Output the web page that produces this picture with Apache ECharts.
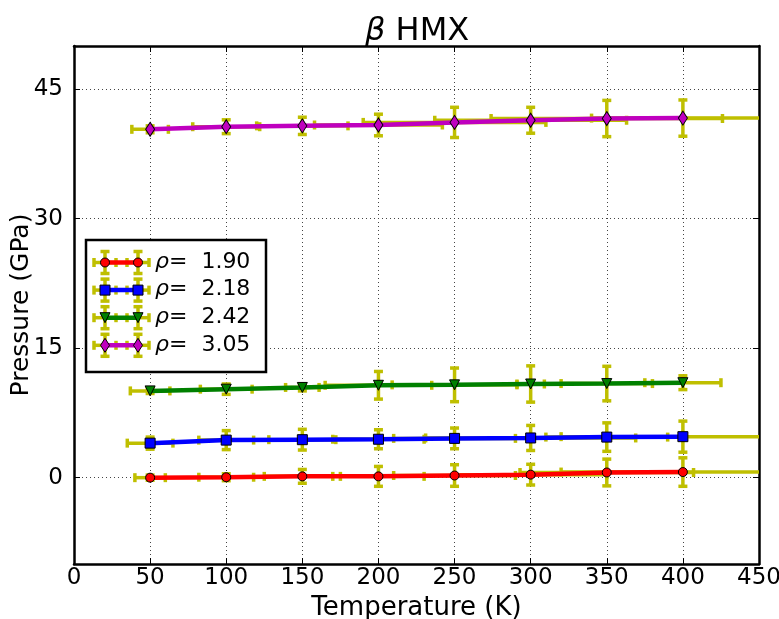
<!DOCTYPE html>
<html>
<head>
<meta charset="utf-8">
<script src="https://cdn.jsdelivr.net/npm/echarts@6/dist/echarts.min.js"></script>
<style>html,body{margin:0;padding:0;background:#fff}#c{width:779px;height:619px}</style>
</head>
<body>
<div id="c"></div>
<script>
// ---- data ----
var temperatures = [50, 100, 150, 200, 250, 300, 350, 400];
var densities = ['1.90', '2.18', '2.42', '3.05'];
var p190 = [0.0, 0.05, 0.15, 0.15, 0.25, 0.35, 0.6, 0.65];
var p218 = [4.0, 4.35, 4.4, 4.45, 4.55, 4.6, 4.7, 4.75];
var p242 = [10.05, 10.25, 10.45, 10.7, 10.75, 10.85, 10.9, 11.0];
var p305 = [40.35, 40.65, 40.75, 40.85, 41.15, 41.4, 41.6, 41.65];
var yerr190 = [0.3, 0.4, 0.8, 1.15, 1.25, 1.2, 1.55, 1.65];
var yerr218 = [0.7, 1.1, 1.2, 1.1, 1.2, 1.45, 1.65, 1.8];
var yerr242 = [0.3, 0.6, 0.4, 1.6, 1.95, 2.1, 2.0, 0.8];
var yerr305 = [0.4, 0.8, 1.0, 1.25, 1.75, 1.5, 2.1, 2.1];
var xerr190 = [10, 18, 25, 30, 40, 50, 57, 80];
var xerr218 = [15, 18, 22, 30, 40, 69, 40, 80];
var xerr242 = [13, 17, 11, 35, 41, 9, 30, 25];
var xerr305 = [12, 22, 30, 42, 60, 63, 76, 60];
var yTicks = [0, 15, 30, 45];

// ---- styles ----
var FONT = 'DejaVu Sans';
var ERR = '#bfbf00';
var colors = ['#ff0000', '#0000ff', '#008000', '#bf00bf'];
var symbols = ['circle', 'rect', 'triangle', 'diamond'];
var symSizes = [9, 10, 10, [9, 14]];
var symRot = [0, 0, 180, 0];
var pressures = [p190, p218, p242, p305];
var yerrs = [yerr190, yerr218, yerr242, yerr305];
var xerrs = [xerr190, xerr218, xerr242, xerr305];

function names(i) { return 'ρ= ' + densities[i]; }

function errRender(params, api) {
  var x = api.value(0), y = api.value(1), xe = api.value(2), ye = api.value(3);
  var c = api.coord([x, y]);
  var l = api.coord([x - xe, y]), r = api.coord([x + xe, y]);
  var t = api.coord([x, y + ye]), b = api.coord([x, y - ye]);
  var cap = 4.5;
  var st = { stroke: ERR, lineWidth: 3.5 };
  function ln(x1, y1, x2, y2) { return { type: 'line', shape: { x1: x1, y1: y1, x2: x2, y2: y2 }, style: st }; }
  return {
    type: 'group',
    children: [
      ln(l[0], c[1], r[0], c[1]),
      ln(l[0], c[1] - cap, l[0], c[1] + cap),
      ln(r[0], c[1] - cap, r[0], c[1] + cap),
      ln(c[0], t[1], c[0], b[1]),
      ln(c[0] - cap, t[1], c[0] + cap, t[1]),
      ln(c[0] - cap, b[1], c[0] + cap, b[1])
    ]
  };
}

var series = [];
for (var i = 0; i < 4; i++) {
  var ed = temperatures.map(function (t, k) { return [t, pressures[i][k], xerrs[i][k], yerrs[i][k]]; });
  series.push({
    type: 'custom', name: names(i) + ' err', renderItem: errRender, data: ed, clip: true, z: 1,
    encode: { x: 0, y: 1 }, silent: true
  });
}
for (var j = 0; j < 4; j++) {
  series.push({
    type: 'line', name: names(j), z: 3,
    data: temperatures.map(function (t, k) { return [t, pressures[j][k]]; }),
    symbol: symbols[j], symbolSize: symSizes[j], symbolRotate: symRot[j],
    showAllSymbol: true,
    lineStyle: { color: colors[j], width: 4.5 },
    itemStyle: { color: colors[j], borderColor: '#000', borderWidth: 1 },
    emphasis: { disabled: true },
    animation: false
  });
}

// legend box and handles (drawn with graphic)
var gElems = [{
  type: 'rect', shape: { x: 86, y: 240, width: 180, height: 132 },
  style: { fill: '#fff', stroke: '#000', lineWidth: 2.5 }, z: 5
}];
for (var g = 0; g < 4; g++) {
  var cy = 262.5 + g * 27.6;
  var st = { stroke: ERR, lineWidth: 3.5 };
  [105, 138].forEach(function (mx) {
    gElems.push({ type: 'line', shape: { x1: mx - 11, y1: cy, x2: mx + 11, y2: cy }, style: st, z: 6 });
    gElems.push({ type: 'line', shape: { x1: mx - 11, y1: cy - 4.5, x2: mx - 11, y2: cy + 4.5 }, style: st, z: 6 });
    gElems.push({ type: 'line', shape: { x1: mx + 11, y1: cy - 4.5, x2: mx + 11, y2: cy + 4.5 }, style: st, z: 6 });
    gElems.push({ type: 'line', shape: { x1: mx, y1: cy - 11, x2: mx, y2: cy + 11 }, style: st, z: 6 });
    gElems.push({ type: 'line', shape: { x1: mx - 4.5, y1: cy - 11, x2: mx + 4.5, y2: cy - 11 }, style: st, z: 6 });
    gElems.push({ type: 'line', shape: { x1: mx - 4.5, y1: cy + 11, x2: mx + 4.5, y2: cy + 11 }, style: st, z: 6 });
  });
  gElems.push({ type: 'line', shape: { x1: 105, y1: cy, x2: 138, y2: cy }, style: { stroke: colors[g], lineWidth: 4.5 }, z: 7 });
  [105, 138].forEach(function (mx) {
    var sz = symSizes[g];
    var w = Array.isArray(sz) ? sz[0] : sz, h = Array.isArray(sz) ? sz[1] : sz;
    var s = symbols[g];
    var base = { style: { fill: colors[g], stroke: '#000', lineWidth: 1 }, z: 9 };
    if (s === 'circle') gElems.push(Object.assign({ type: 'circle', shape: { cx: mx, cy: cy, r: w / 2 } }, base));
    else if (s === 'rect') gElems.push(Object.assign({ type: 'rect', shape: { x: mx - w / 2, y: cy - h / 2, width: w, height: h } }, base));
    else if (s === 'triangle') gElems.push(Object.assign({ type: 'polygon', shape: { points: [[mx - w / 2, cy - h / 2], [mx + w / 2, cy - h / 2], [mx, cy + h / 2]] } }, base));
    else gElems.push(Object.assign({ type: 'polygon', shape: { points: [[mx, cy - h / 2], [mx + w / 2, cy], [mx, cy + h / 2], [mx - w / 2, cy]] } }, base));
  });
}

var chart = echarts.init(document.getElementById('c'), null, { renderer: 'canvas' });
var option = {
  animation: false,
  backgroundColor: '#fff',
  textStyle: { fontFamily: FONT },
  title: {
    text: '{i|β} HMX', left: 360, top: 11,
    textStyle: {
      fontFamily: FONT, fontSize: 32, fontWeight: 'normal', color: '#000',
      rich: { i: { fontFamily: FONT, fontStyle: 'italic', fontSize: 32, color: '#000' } }
    }
  },
  grid: { left: 74, right: 20, top: 46, bottom: 55, show: false, containLabel: false, outerBoundsMode: 'none' },
  xAxis: [{
    type: 'value', min: 0, max: 450, interval: 50,
    name: 'Temperature (K)', nameLocation: 'middle', nameGap: 29,
    nameTextStyle: { fontFamily: FONT, fontSize: 26, color: '#000' },
    axisLine: { show: true, onZero: false, lineStyle: { color: '#000', width: 2.5 } },
    axisTick: { show: true, inside: true, length: 6, lineStyle: { color: '#000', width: 1 } },
    axisLabel: { fontFamily: FONT, fontSize: 23, color: '#000', margin: 3 },
    splitLine: { show: true, lineStyle: { color: '#444', width: 1, type: [1, 3] } }
  }, {
    type: 'value', min: 0, max: 450, interval: 50, position: 'top',
    axisLine: { show: true, onZero: false, lineStyle: { color: '#000', width: 2.5 } },
    axisTick: { show: true, inside: true, length: 6, lineStyle: { color: '#000', width: 1 } },
    axisLabel: { show: false }, splitLine: { show: false }
  }],
  yAxis: [{
    type: 'value', min: -10, max: 50,
    name: 'Pressure (GPa)', nameLocation: 'middle', nameGap: 40, nameRotate: 90,
    nameMoveOverlap: false,
    nameTextStyle: { fontFamily: FONT, fontSize: 25, color: '#000' },
    axisLine: { show: true, onZero: false, lineStyle: { color: '#000', width: 2.5 } },
    axisTick: { show: true, inside: true, length: 6, customValues: yTicks, lineStyle: { color: '#000', width: 1 } },
    axisLabel: { fontFamily: FONT, fontSize: 23, color: '#000', margin: 11, customValues: yTicks },
    splitLine: { show: true, lineStyle: { color: '#444', width: 1, type: [1, 3] } }
  }, {
    type: 'value', min: -10, max: 50, position: 'right',
    axisLine: { show: true, onZero: false, lineStyle: { color: '#000', width: 2.5 } },
    axisTick: { show: true, inside: true, length: 6, customValues: yTicks, lineStyle: { color: '#000', width: 1 } },
    axisLabel: { show: false }, splitLine: { show: false }
  }],
  legend: {
    orient: 'vertical', left: 86, top: 240,
    padding: [9, 13, 14, 7],
    itemWidth: 57, itemHeight: 14, itemGap: 1.6,
    icon: 'none',
    data: densities.map(function (d, i) { return names(i); }),
    selectedMode: false,
    formatter: function (n) { return '{i|ρ}=  ' + n.slice(3); },
    textStyle: {
      fontFamily: FONT, fontSize: 22, color: '#000', lineHeight: 26,
      rich: { i: { fontFamily: FONT, fontStyle: 'italic', fontSize: 22, lineHeight: 26, color: '#000' } }
    },
    z: 8
  },
  graphic: gElems,
  series: series
};
chart.setOption(option);
</script>
</body>
</html>
